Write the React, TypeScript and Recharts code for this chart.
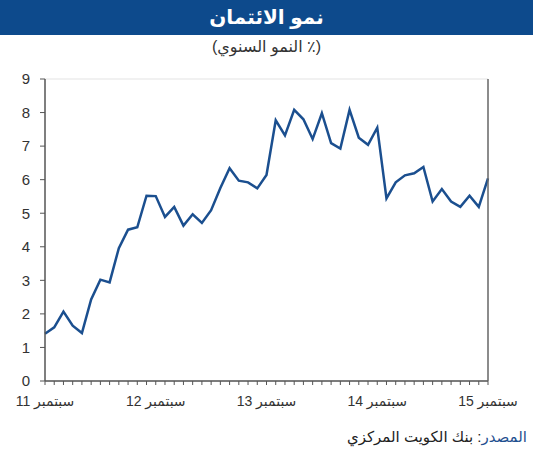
import React from 'react';
import { LineChart, Line, XAxis, YAxis, CartesianGrid } from 'recharts';

const months = [
  'Sep-11','Oct-11','Nov-11','Dec-11','Jan-12','Feb-12','Mar-12','Apr-12','May-12','Jun-12','Jul-12','Aug-12',
  'Sep-12','Oct-12','Nov-12','Dec-12','Jan-13','Feb-13','Mar-13','Apr-13','May-13','Jun-13','Jul-13','Aug-13',
  'Sep-13','Oct-13','Nov-13','Dec-13','Jan-14','Feb-14','Mar-14','Apr-14','May-14','Jun-14','Jul-14','Aug-14',
  'Sep-14','Oct-14','Nov-14','Dec-14','Jan-15','Feb-15','Mar-15','Apr-15','May-15','Jun-15','Jul-15','Aug-15',
  'Sep-15',
];

const creditGrowth = [
  1.41, 1.6, 2.07, 1.65, 1.43, 2.43, 3.02, 2.94, 3.96, 4.51,
  4.58, 5.52, 5.51, 4.89, 5.19, 4.63, 4.97, 4.71, 5.09, 5.75,
  6.34, 5.97, 5.92, 5.74, 6.14, 7.77, 7.32, 8.08, 7.8, 7.21,
  7.98, 7.09, 6.93, 8.08, 7.25, 7.04, 7.55, 5.44, 5.92, 6.13,
  6.19, 6.38, 5.35, 5.72, 5.35, 5.19, 5.52, 5.19, 6.04,
];

const xTickLabels: Record<string, string> = {
  'Sep-11': '11 سبتمبر',
  'Sep-12': '12 سبتمبر',
  'Sep-13': '13 سبتمبر',
  'Sep-14': '14 سبتمبر',
  'Sep-15': '15 سبتمبر',
};

const yTicks = [0, 1, 2, 3, 4, 5, 6, 7, 8, 9];

const title = 'نمو الائتمان';
const subtitle = '(٪ النمو السنوي)';
const sourceLabel = 'المصدر';
const sourceText = ': بنك الكويت المركزي';

const data = months.map((m, i) => ({ month: m, value: creditGrowth[i] }));

const FONT = '"Liberation Sans", Arial, "DejaVu Sans", sans-serif';

const XTick = (props: any) => {
  const { x, y, payload } = props;
  const label = xTickLabels[payload.value];
  if (!label) return null;
  return (
    <text x={x} y={y} dy={15} textAnchor="middle" fontSize={14} fill="#333" fontFamily={FONT}>
      {label}
    </text>
  );
};

export default function App() {
  return (
    <div style={{ position: 'absolute', left: 0, top: 0, width: 533, height: 450, background: '#fff', fontFamily: FONT }}>
      <div style={{ position: 'absolute', left: 0, top: 0, width: 533, height: 35, background: '#0d4a8c', color: '#fff', fontWeight: 'bold', fontSize: 20, lineHeight: '35px', textAlign: 'center' }} dir="rtl">
        {title}
      </div>
      <div style={{ position: 'absolute', left: 0, top: 36, width: 533, height: 22, color: '#333', fontSize: 16, lineHeight: '22px', textAlign: 'center' }} dir="rtl">
        {subtitle}
      </div>
      <div style={{ position: 'absolute', left: 0, top: 0 }}>
        <LineChart width={533} height={450} data={data} margin={{ top: 79, right: 0, bottom: 39, left: 0 }}>
          <CartesianGrid vertical={false} stroke="#e3e3e3" />
          <XAxis
            dataKey="month"
            interval={0}
            height={30}
            tickSize={4}
            tickMargin={6}
            tick={<XTick />}
            axisLine={{ stroke: '#555', strokeWidth: 1.5 }}
            tickLine={{ stroke: '#555' }}
          />
          <YAxis
            yAxisId="left"
            orientation="left"
            width={45}
            domain={[0, 9]}
            ticks={yTicks}
            tickSize={5}
            tickMargin={10}
            tick={{ fill: '#333', fontSize: 15, fontFamily: FONT }}
            axisLine={{ stroke: '#555', strokeWidth: 1.5 }}
            tickLine={{ stroke: '#555' }}
          />
          <YAxis
            yAxisId="right"
            orientation="right"
            width={45}
            domain={[0, 9]}
            ticks={yTicks}
            tickSize={5}
            tickMargin={10}
            tick={{ fill: '#333', fontSize: 15, fontFamily: FONT }}
            axisLine={{ stroke: '#666', strokeWidth: 1.5 }}
            tickLine={{ stroke: '#666' }}
          />
          <Line
            yAxisId="left"
            type="linear"
            dataKey="value"
            stroke="#1b4f8f"
            strokeWidth={2.5}
            dot={false}
            isAnimationActive={false}
          />
        </LineChart>
      </div>
      <div style={{ position: 'absolute', right: 6, top: 427, fontSize: 15, color: '#222', lineHeight: '20px' }} dir="rtl">
        <span style={{ color: '#1f4f8f' }}>{sourceLabel}</span>
        <span>{sourceText}</span>
      </div>
    </div>
  );
}
